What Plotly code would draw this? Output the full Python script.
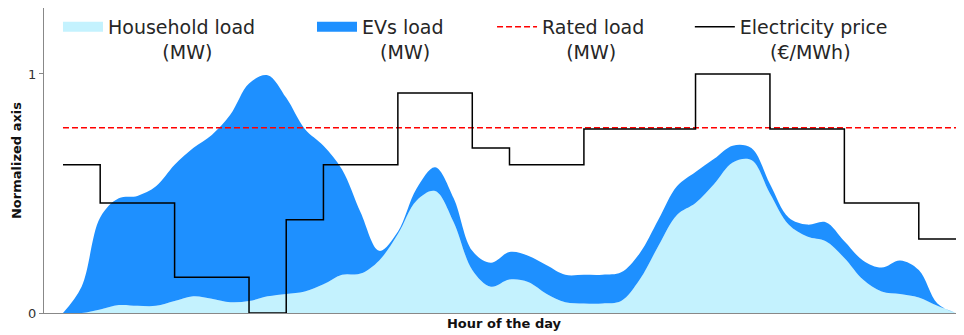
import plotly.graph_objects as go

# half-hour grid for the load curves
hours = [i * 0.5 for i in range(49)]

household = [0.0, 0.0, 0.015, 0.033, 0.03, 0.03, 0.05, 0.07, 0.06, 0.045,
             0.05, 0.07, 0.08, 0.09, 0.12, 0.16, 0.165, 0.22, 0.33, 0.47,
             0.51, 0.38, 0.18, 0.11, 0.14, 0.13, 0.08, 0.045, 0.04, 0.04,
             0.05, 0.14, 0.28, 0.41, 0.46, 0.54, 0.63, 0.64, 0.50, 0.37,
             0.32, 0.30, 0.23, 0.14, 0.09, 0.08, 0.065, 0.03, 0.0]

ev_load = [0.0, 0.11, 0.385, 0.447, 0.46, 0.50, 0.57, 0.62, 0.685, 0.785,
           0.91, 0.925, 0.82, 0.68, 0.58, 0.44, 0.255, 0.04, 0.01, 0.05,
           0.10, 0.10, 0.08, 0.10, 0.115, 0.11, 0.12, 0.115, 0.12, 0.12,
           0.12, 0.11, 0.11, 0.12, 0.13, 0.105, 0.07, 0.05, 0.04, 0.03,
           0.05, 0.08, 0.07, 0.08, 0.10, 0.14, 0.115, 0.01, 0.0]

# hourly electricity price (normalized), hours 0..23
price_hours = list(range(25))
price = [0.62, 0.46, 0.46, 0.15, 0.15, 0.0, 0.39, 0.62, 0.62, 0.92,
         0.92, 0.69, 0.62, 0.62, 0.77, 0.77, 0.77, 1.0, 1.0, 0.77,
         0.77, 0.46, 0.46, 0.31]

rated_load = 0.775

HOUSE_COLOR = "#c4f2fe"
EV_COLOR = "#1e90ff"
NB = "\u00a0"
font = dict(family="DejaVu Sans", size=19, color="#262626")

fig = go.Figure()

fig.add_trace(go.Scatter(
    x=hours, y=household, stackgroup="load", mode="lines",
    line=dict(width=0, shape="spline", smoothing=1.0),
    fillcolor=HOUSE_COLOR, showlegend=False))

fig.add_trace(go.Scatter(
    x=hours, y=ev_load, stackgroup="load", mode="lines",
    line=dict(width=0, shape="spline", smoothing=1.0),
    fillcolor=EV_COLOR, showlegend=False))

fig.add_trace(go.Scatter(
    x=[0, 24], y=[rated_load, rated_load], mode="lines",
    line=dict(color="red", width=1.5, dash="6px,3px"),
    name="Rated load<br>" + NB * 4 + "(MW)", legend="legend3"))

fig.add_trace(go.Scatter(
    x=price_hours, y=price + [price[-1]], mode="lines",
    line=dict(color="black", width=1.5, shape="hv"),
    name="Electricity price<br>" + NB * 5 + "(€/MWh)", legend="legend4"))

# legend swatches for the two filled areas
fig.add_trace(go.Scatter(
    x=[None], y=[None], mode="lines", line=dict(color=HOUSE_COLOR, width=14),
    name="Household load<br>" + NB * 9 + "(MW)", legend="legend"))
fig.add_trace(go.Scatter(
    x=[None], y=[None], mode="lines", line=dict(color=EV_COLOR, width=14),
    name="EVs load<br>" + NB * 3 + "(MW)", legend="legend2"))

leg = dict(y=1.0, yanchor="top", xanchor="left", valign="top",
           bgcolor="rgba(0,0,0,0)", font=font, itemwidth=40)

# the page body adds an 8px offset, so the figure is 8px smaller each way
fig.update_layout(
    width=956, height=327,
    margin=dict(l=36, r=0, t=0, b=22),
    plot_bgcolor="white", paper_bgcolor="white",
    font=dict(family="DejaVu Sans", color="#333"),
    showlegend=True,
    legend=dict(x=0.0152, **leg),
    legend2=dict(x=0.2913, **leg),
    legend3=dict(x=0.487, **leg),
    legend4=dict(x=0.702, **leg),
    xaxis=dict(range=[-0.51, 24.215], showgrid=False, zeroline=False,
               showline=True, linecolor="#888", linewidth=1,
               showticklabels=False, ticks="",
               title=dict(text="<b>Hour of the day</b>", standoff=5,
                          font=dict(size=13, color="#111"))),
    yaxis=dict(range=[0, 1.276], showgrid=False, zeroline=False,
               showline=True, linecolor="#888", linewidth=1,
               tickvals=[0, 1], ticktext=["0", "1"], ticks="outside",
               ticklen=4, tickcolor="#888",
               tickfont=dict(size=13, color="#333"),
               title=dict(text="<b>Normalized axis</b>", standoff=3,
                          font=dict(size=13, color="#111"))),
)

fig.write_html("out.html")
